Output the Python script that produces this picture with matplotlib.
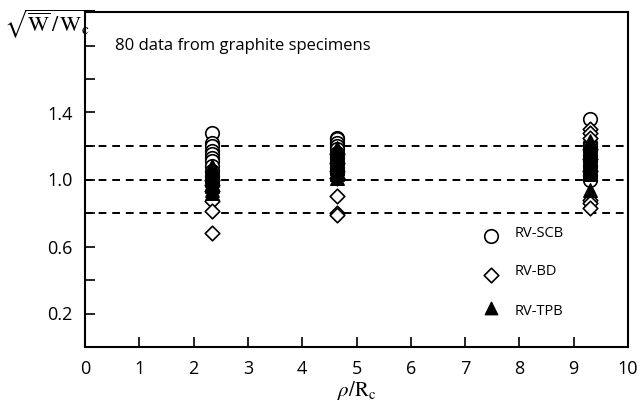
import numpy as np
import matplotlib.pyplot as plt

# rho/Rc positions of the three specimen groups
x_groups = [2.33, 4.65, 9.3]

# RV-SCB (open circles)
scb_a = [1.28, 1.22, 1.20, 1.17, 1.15, 1.13, 1.11, 1.08, 1.05, 1.02, 0.99]
scb_b = [1.25, 1.24, 1.22, 1.20, 1.18, 1.16, 1.13, 1.10, 1.07, 1.04]
scb_c = [1.36, 1.22, 1.20, 1.17, 1.14, 1.11, 1.08, 1.05, 1.02, 1.00]
# RV-BD (open diamonds)
bd_a = [1.00, 0.97, 0.93, 0.87, 0.81, 0.68]
bd_b = [1.15, 1.10, 1.05, 1.01, 0.90, 0.80, 0.79]
bd_c = [1.30, 1.28, 1.25, 1.18, 1.12, 1.05, 0.88, 0.86, 0.83]
# RV-TPB (filled triangles)
tpb_a = [1.08, 1.06, 1.04, 1.02, 1.00, 0.98, 0.96, 0.94, 0.92]
tpb_b = [1.19, 1.17, 1.15, 1.13, 1.11, 1.09, 1.07, 1.05, 1.03, 1.01]
tpb_c = [1.23, 1.21, 1.19, 1.17, 1.15, 1.13, 1.11, 1.09, 1.07, 1.05, 1.03, 0.94]

ref_lines = [1.2, 1.0, 0.8]

plt.rcParams['font.family'] = ['Open Sans', 'DejaVu Sans']
plt.rcParams['mathtext.fontset'] = 'stix'

fig = plt.figure(figsize=(6.42, 4.03), dpi=100)
ax = fig.add_axes([85/642, 1 - 347/403, 543/642, 335/403])

for y in ref_lines:
    ax.axhline(y, color='black', lw=1.4, ls=(0, (4, 3)), zorder=1)

groups = [(scb_a, bd_a, tpb_a), (scb_b, bd_b, tpb_b), (scb_c, bd_c, tpb_c)]
for xg, (s, d, t) in zip(x_groups, groups):
    ax.scatter([xg]*len(s), s, marker='o', s=95, facecolors='white', edgecolors='black', linewidths=1.2, zorder=3)
    ax.scatter([xg]*len(d), d, marker='D', s=55, facecolors='white', edgecolors='black', linewidths=1.2, zorder=3)
    ax.scatter([xg]*len(t), t, marker='^', s=95, facecolors='black', edgecolors='black', zorder=4)

# legend drawn by hand like the original
lx, tx = 7.48, 7.92
ax.scatter([lx], [0.66], marker='o', s=95, facecolors='white', edgecolors='black', linewidths=1.2, zorder=5)
ax.scatter([lx], [0.43], marker='D', s=55, facecolors='white', edgecolors='black', linewidths=1.2, zorder=5)
ax.scatter([lx], [0.23], marker='^', s=80, facecolors='black', edgecolors='black', zorder=5)
ax.text(tx, 0.68, 'RV-SCB', fontsize=10.5, va='center')
ax.text(tx, 0.45, 'RV-BD', fontsize=10.5, va='center')
ax.text(tx, 0.21, 'RV-TPB', fontsize=10.5, va='center')

ax.text(0.55, 1.8, '80 data from graphite specimens', fontsize=12, va='center')

ax.set_xlim(0, 10)
ax.set_ylim(0, 2.0)
ax.set_xticks(np.arange(0, 11, 1))
ax.set_yticks(np.arange(0.2, 2.01, 0.2))
ax.set_yticklabels(['0.2', '', '0.6', '', '1.0', '', '1.4', '', '', ''])
ax.tick_params(direction='in', length=7, width=1.2, labelsize=13, pad=9)
for sp in ax.spines.values():
    sp.set_linewidth(1.5)

ax.set_xlabel(r'$\rho/\mathrm{R_c}$', fontsize=15, labelpad=1)
fig.text(4/642, 1 - 24/403, r'$\sqrt{\overline{\mathrm{W}}\,/\,\mathrm{W_c}}$', fontsize=16, va='center', ha='left')

fig.savefig('out.png', dpi=100)
